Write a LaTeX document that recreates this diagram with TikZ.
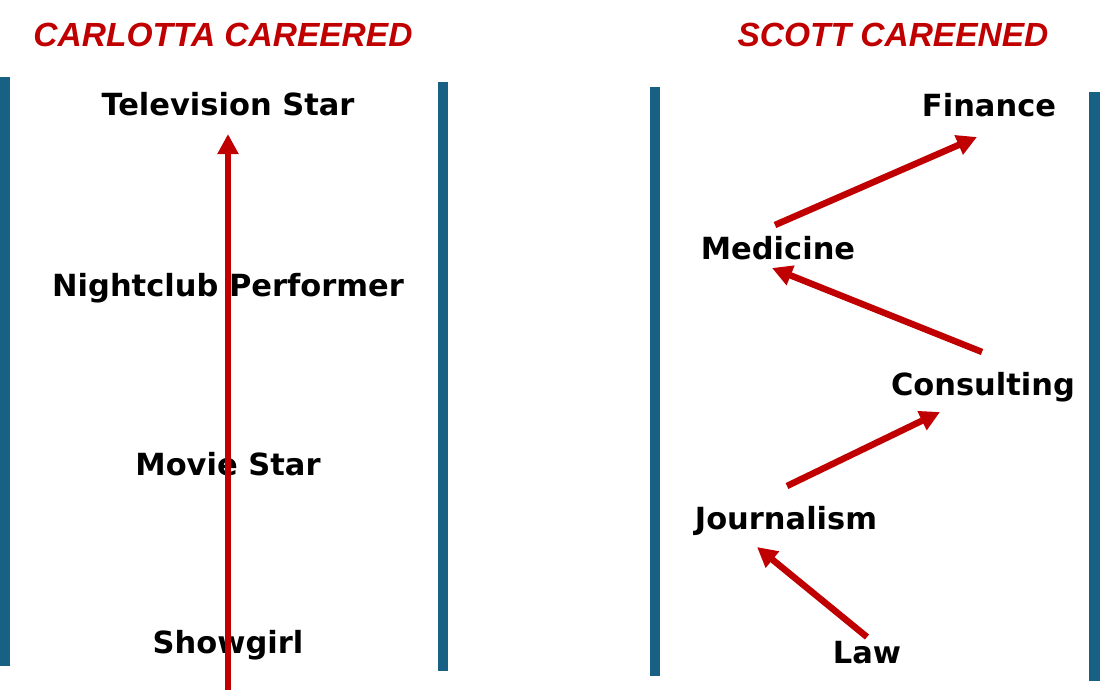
\documentclass[tikz,border=0pt]{standalone}
\usepackage{fontspec}
\setmainfont{DejaVu Sans}
\newfontfamily\titlefont{Liberation Sans}
\usetikzlibrary{arrows.meta}
\definecolor{barblue}{HTML}{186185}
\definecolor{darkred}{HTML}{C00000}
\tikzset{
  bar/.style={fill=barblue, draw=none},
  titlelbl/.style={anchor=base, inner sep=0, text=darkred, font=\titlefont\bfseries\itshape\fontsize{33.5pt}{36pt}\selectfont},
  lbl/.style={anchor=base, inner sep=0, text=black, font=\bfseries\fontsize{30.5pt}{32pt}\selectfont},
  careerarrow/.style={draw=darkred, line width=6.5pt, -{Triangle[length=20pt,width=20pt]}}
}
\begin{document}
\begin{tikzpicture}[x=1pt,y=-1pt]
\useasboundingbox (0,0) rectangle (1100,698);
% bars
\fill[bar] (0,77) rectangle (10,666);
\fill[bar] (438,82) rectangle (448,671);
\fill[bar] (650,87) rectangle (660,676);
\fill[bar] (1089,92) rectangle (1100,681);
% titles
\node[titlelbl] (t1) at (223,47) {CARLOTTA CAREERED};
\node[titlelbl] (t2) at (893,47) {SCOTT CAREENED};
% Carlotta
\node[lbl] (tv) at (228,116) {Television Star};
\node[lbl] (night) at (228,296) {Nightclub Performer};
\node[lbl] (movie) at (228,475) {Movie Star};
\node[lbl] (show) at (228,653) {Showgirl};
\coordinate (cbottom) at (228,690);
\coordinate (ctop) at (228,134);
\draw[careerarrow] (cbottom) -- (ctop);
% Scott
\node[lbl] (fin) at (989,117) {Finance};
\node[lbl] (med) at (778,259) {Medicine};
\node[lbl] (cons) at (983,395) {Consulting};
\node[lbl] (jour) at (786,529) {Journalism};
\node[lbl] (law) at (867,663) {Law};
\coordinate (lawout) at (867,637);
\coordinate (jourin) at (757,547);
\coordinate (jourout) at (787,486);
\coordinate (consin) at (940,412);
\coordinate (consout) at (982,352);
\coordinate (medin) at (772,268);
\coordinate (medout) at (775,225);
\coordinate (finin) at (977,137);
\draw[careerarrow] (lawout) -- (jourin);
\draw[careerarrow] (jourout) -- (consin);
\draw[careerarrow] (consout) -- (medin);
\draw[careerarrow] (medout) -- (finin);
\end{tikzpicture}
\end{document}
